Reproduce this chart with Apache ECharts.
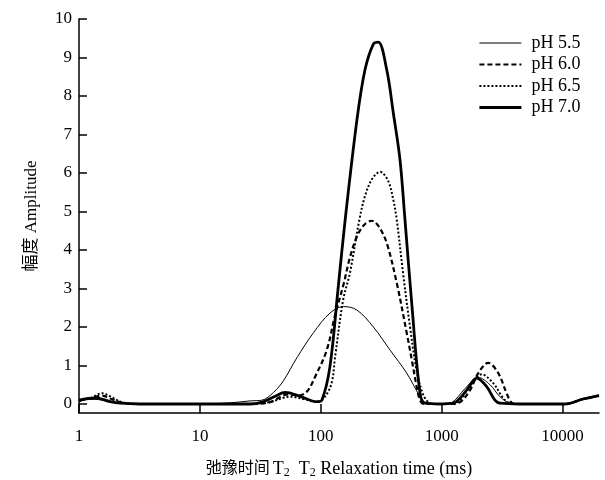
<!DOCTYPE html>
<html>
<head>
<meta charset="utf-8">
<script src="https://cdn.jsdelivr.net/npm/echarts@6/dist/echarts.min.js"></script>
<style>html,body{margin:0;padding:0;background:#fff}#c{width:605px;height:480px}</style>
</head>
<body>
<div id="c"></div>
<script>
// Relaxation time (ms) and amplitude
var ph55T = [1, 1.36, 1.81, 2.4, 3.2, 10, 17.8, 26, 32.7, 40.6, 49, 63.4, 86.9, 119, 154, 199, 272, 374, 514, 662, 728, 830, 1065, 1210, 1560, 2006, 2508, 3034, 3670, 4430, 10400, 14800, 20000];
var ph55A = [0.1, 0.12, 0.06, 0.01, 0, 0, 0.03, 0.08, 0.1, 0.3, 0.6, 1.2, 1.85, 2.36, 2.53, 2.44, 2.0, 1.4, 0.8, 0.19, 0.03, 0, 0, 0.03, 0.4, 0.69, 0.5, 0.19, 0.02, 0, 0, 0.13, 0.22];

var ph60T = [1, 1.24, 1.55, 1.88, 2.41, 3.2, 26, 38, 53.7, 65, 76.6, 89.8, 112, 131, 154, 174, 199, 228, 264, 303, 351, 425, 514, 569, 621, 662, 714, 1172, 1420, 1716, 2006, 2427, 2938, 3444, 3810, 4430, 10400, 14800, 20000];
var ph60A = [0.08, 0.15, 0.22, 0.12, 0.02, 0, 0, 0.05, 0.25, 0.22, 0.32, 0.71, 1.4, 2.3, 3.1, 3.8, 4.35, 4.65, 4.76, 4.6, 4.18, 3.14, 1.84, 1.1, 0.45, 0.1, 0, 0, 0.05, 0.36, 0.8, 1.07, 0.8, 0.28, 0.03, 0, 0, 0.13, 0.22];

var ph65T = [1, 1.24, 1.55, 1.81, 2.2, 2.9, 26, 38, 55.7, 74, 92.7, 108.6, 123, 131, 153, 174, 209, 232, 266, 309, 360, 398, 425, 479, 547, 625, 701, 771, 832, 1290, 1420, 1716, 2140, 2670, 3230, 3670, 4430, 10400, 14800, 20000];
var ph65A = [0.08, 0.15, 0.28, 0.2, 0.06, 0, 0, 0.05, 0.19, 0.12, 0.05, 0.2, 0.55, 1.2, 2.7, 3.4, 4.8, 5.4, 5.85, 6.03, 5.8, 5.3, 4.78, 3.4, 2.0, 0.8, 0.25, 0.05, 0, 0.02, 0.1, 0.45, 0.77, 0.54, 0.15, 0.02, 0, 0, 0.13, 0.22];

var ph70T = [1, 1.36, 1.81, 2.2, 3.2, 26, 32.7, 41.9, 50.7, 67.4, 92.7, 102, 119, 139, 159, 199, 232, 272, 299, 351, 398, 452, 497, 569, 662, 728, 968, 1240, 1610, 1947, 2355, 2756, 3034, 4430, 10400, 14800, 20000];
var ph70A = [0.1, 0.16, 0.06, 0.02, 0, 0, 0.05, 0.2, 0.3, 0.2, 0.06, 0.1, 0.97, 3.0, 4.78, 7.38, 8.68, 9.35, 9.4, 8.68, 7.56, 6.34, 4.78, 2.5, 0.28, 0.02, 0, 0.02, 0.36, 0.67, 0.45, 0.1, 0.02, 0, 0, 0.13, 0.22];

var seriesNames = ['pH 5.5', 'pH 6.0', 'pH 6.5', 'pH 7.0'];
var xTickValues = [1, 10, 100, 1000, 10000];
var yTickValues = [0, 1, 2, 3, 4, 5, 6, 7, 8, 9, 10];

function zip(t, a) { return t.map(function (v, i) { return [v, a[i]]; }); }

var FONT = "'Liberation Serif', 'Times New Roman', 'Noto Sans CJK SC', serif";
var chart = echarts.init(document.getElementById('c'), null, {renderer: 'canvas'});
var styles = [
  {width: 1, type: 'solid'},
  {width: 2.2, type: [5, 3]},
  {width: 2, type: [2, 2]},
  {width: 2.8, type: 'solid'}
];
var datas = [zip(ph55T, ph55A), zip(ph60T, ph60A), zip(ph65T, ph65A), zip(ph70T, ph70A)];

chart.setOption({
  backgroundColor: '#fff',
  animation: false,
  textStyle: {fontFamily: FONT, color: '#000'},
  grid: {left: 79, right: 6, top: 19, bottom: 67, containLabel: false, outerBoundsMode: 'none'},
  legend: {
    orient: 'vertical', left: 478, top: 34, padding: 0,
    itemWidth: 42, itemHeight: 14, itemGap: 3.5,
    itemStyle: {opacity: 0},
    data: seriesNames.map(function (n, i) {
      return {name: n, lineStyle: {color: '#000', width: styles[i].width, type: styles[i].type}};
    }),
    textStyle: {fontFamily: FONT, fontSize: 18, lineHeight: 18, color: '#000', padding: [0, 0, 0, 5]}
  },
  xAxis: {
    type: 'log', logBase: 10, min: 1, max: 20000,
    name: '{c|弛豫时间} {a|T}{s|2}{a|  T}{s|2}{a| Relaxation time (ms)}',
    nameLocation: 'middle', nameGap: 46,
    nameTextStyle: {
      rich: {
        c: {fontFamily: FONT, fontSize: 16, color: '#000', lineHeight: 20},
        a: {fontFamily: FONT, fontSize: 18, color: '#000', lineHeight: 20},
        s: {fontFamily: FONT, fontSize: 12, color: '#000', lineHeight: 12, verticalAlign: 'bottom'}
      }
    },
    axisLine: {onZero: false, lineStyle: {color: '#000', width: 1.5}},
    axisTick: {inside: true, length: 9, customValues: xTickValues, lineStyle: {color: '#000', width: 1.5}},
    minorTick: {show: false},
    axisLabel: {
      customValues: xTickValues, fontFamily: FONT, fontSize: 17, color: '#000', margin: 15,
      formatter: function (v) { return String(v); }
    },
    splitLine: {show: false}
  },
  yAxis: {
    type: 'value', min: -0.234, max: 10,
    name: '幅度 Amplitude', nameLocation: 'middle', nameGap: 39,
    nameTextStyle: {fontFamily: FONT, fontSize: 17, color: '#000'},
    axisLine: {lineStyle: {color: '#000', width: 1.5}},
    axisTick: {inside: true, length: 8, customValues: yTickValues, lineStyle: {color: '#000', width: 1.5}},
    axisLabel: {customValues: yTickValues, fontFamily: FONT, fontSize: 17, color: '#000', margin: 7},
    splitLine: {show: false}
  },
  series: seriesNames.map(function (n, i) {
    return {
      name: n, type: 'line', data: datas[i], symbol: 'none', smooth: 0.35,
      lineStyle: {color: '#000', width: styles[i].width, type: styles[i].type},
      itemStyle: {color: '#000'}
    };
  })
});
</script>
</body>
</html>
